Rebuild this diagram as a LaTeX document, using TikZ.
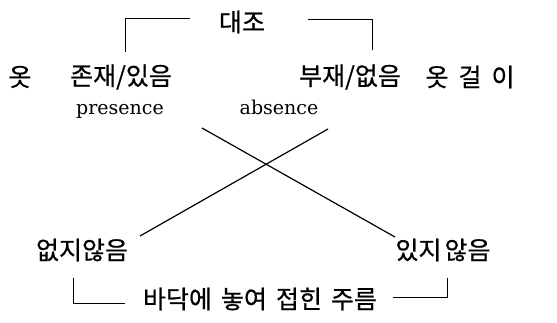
\documentclass[tikz,border=0pt]{standalone}
\usepackage{fontspec}
\setmainfont{DejaVu Serif}
\newfontfamily\kr[FakeBold=0.6]{Noto Sans CJK KR}
\begin{document}
\begin{tikzpicture}[x=1pt,y=-1pt,
  kor/.style={inner sep=0pt,font=\kr\fontsize{25}{28}\selectfont},
  lat/.style={inner sep=0pt,anchor=base,font=\fontsize{19}{22}\selectfont},
  brk/.style={line width=0.9pt},
  crs/.style={line width=1.2pt}]
\useasboundingbox (0,0) rectangle (557,322);
% texts
\node[kor] (dz) at (242,22) {대조};
\node[kor] (ot) at (20,77) {옷};
\node[kor] (jj) at (121,77) {존재/있음};
\node[kor] (bj) at (350,77) {부재/없음};
\node[kor] (og) at (470,77) {옷\hspace{10pt}걸\hspace{10pt}이};
\node[lat] (pr) at (120,114) {presence};
\node[lat] (ab) at (279,114) {absence};
\node[kor] (bl) at (82,250) {없지않음};
\node[kor] (br) at (443,250) {있지\hspace{3pt}않음};
\node[kor] (bt) at (260,299) {바닥에\hspace{9pt}놓여\hspace{9pt}접힌\hspace{9pt}주름};
% bracket coordinates
\coordinate (t1) at (190,18);
\coordinate (t2) at (125,18);
\coordinate (t3) at (125,52);
\coordinate (t4) at (308,19);
\coordinate (t5) at (372,19);
\coordinate (t6) at (372,50);
\coordinate (b1) at (73,278);
\coordinate (b2) at (73,303);
\coordinate (b3) at (125,303);
\coordinate (b4) at (393,297);
\coordinate (b5) at (447,297);
\coordinate (b6) at (447,278);
% cross coordinates
\coordinate (c1) at (202,128);
\coordinate (c2) at (395,237);
\coordinate (c3) at (328,129);
\coordinate (c4) at (140,236);
\draw[brk] (t1) -- (t2) -- (t3);
\draw[brk] (t4) -- (t5) -- (t6);
\draw[brk] (b1) -- (b2) -- (b3);
\draw[brk] (b4) -- (b5) -- (b6);
\draw[crs] (c1) -- (c2);
\draw[crs] (c3) -- (c4);
\end{tikzpicture}
\end{document}
